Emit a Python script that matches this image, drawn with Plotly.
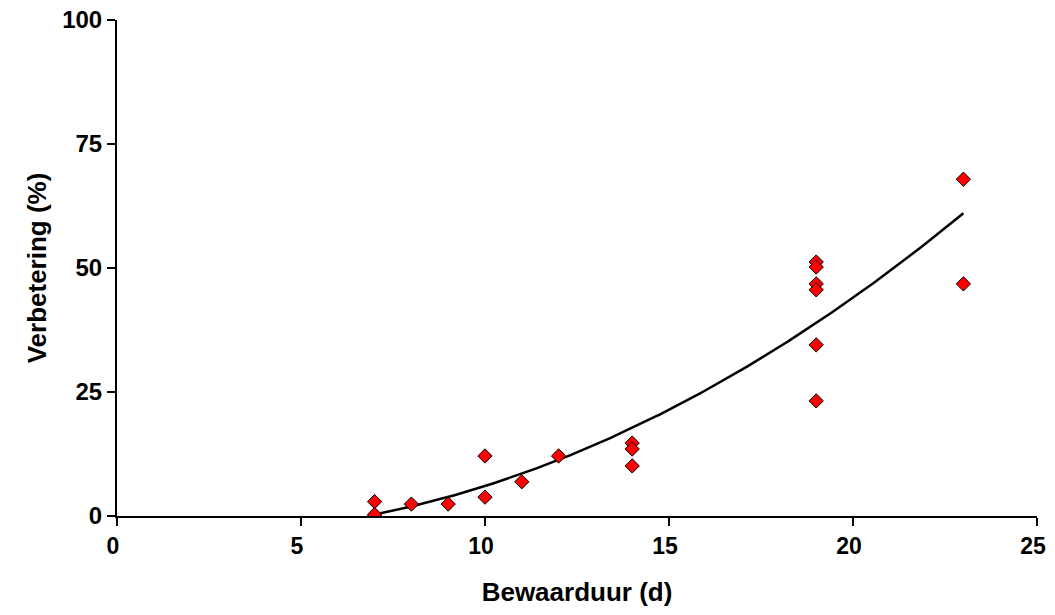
import numpy as np
import plotly.graph_objects as go

bewaarduur = [7, 7, 7, 8, 9, 10, 10, 11, 12, 14, 14, 14, 19, 19, 19, 19, 19, 19, 23, 23]
verbetering = [2.9, 0.0, 0.3, 2.4, 2.4, 12.1, 3.8, 6.9, 12.1, 14.7, 13.5, 10.1,
               51.2, 50.2, 46.8, 45.6, 34.5, 23.2, 67.9, 46.8]
x_ticks = [0, 5, 10, 15, 20, 25]
y_ticks = [0, 25, 50, 75, 100]

coef = np.polyfit(bewaarduur, verbetering, 2)
xs = np.linspace(min(bewaarduur), max(bewaarduur), 200)
ys = np.polyval(coef, xs)

fig = go.Figure()
fig.add_trace(go.Scatter(x=xs, y=ys, mode="lines", line=dict(color="black", width=2.5),
                         showlegend=False, hoverinfo="skip"))
fig.add_trace(go.Scatter(x=bewaarduur, y=verbetering, mode="markers",
                         marker=dict(symbol="diamond", size=11, color="#ff0000",
                                     line=dict(color="black", width=1)),
                         showlegend=False))

tf = dict(family="Liberation Sans, Arial", size=24, color="black", weight="bold")
xtf = dict(family="Liberation Sans, Arial", size=23, color="black", weight="bold")
ttf = dict(family="Liberation Sans, Arial", size=26, color="black", weight="bold")
fig.update_layout(
    width=1039, height=599,
    margin=dict(l=109, r=10, t=12, b=91),
    plot_bgcolor="white", paper_bgcolor="white",
    xaxis=dict(range=[0, 25], tickvals=x_ticks, showgrid=False, zeroline=False,
               showline=True, linecolor="black", linewidth=2, ticks="outside",
               ticklen=8, tickwidth=2, tickcolor="black", tickfont=xtf,
               ticklabeloverflow="allow", automargin=False, ticklabelshift=-4,
               title=dict(text="Bewaarduur (d)", standoff=28, font=ttf)),
    yaxis=dict(range=[0, 100], tickvals=y_ticks, showgrid=False, zeroline=False,
               showline=True, linecolor="black", linewidth=2, ticks="outside",
               ticklen=8, tickwidth=2, tickcolor="black", tickfont=tf,
               ticklabeloverflow="allow", automargin=False,
               title=dict(text="Verbetering (%)", standoff=8, font=ttf)),
)
fig.write_html("out.html")
